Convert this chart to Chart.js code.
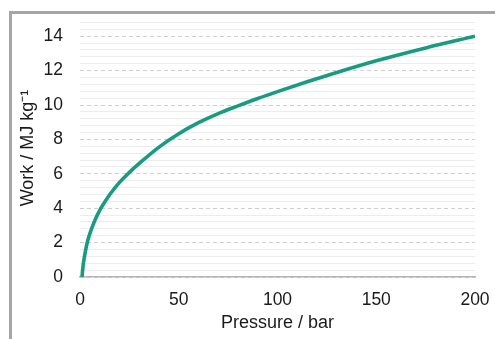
<!DOCTYPE html>
<html>
<head>
<meta charset="utf-8">
<script src="https://cdn.jsdelivr.net/npm/chart.js@4"></script>
<style>
  html, body { margin:0; padding:0; background:#fff; overflow:hidden; }
  #wrap { position:relative; width:495px; height:339px; }
  #frame { position:absolute; left:9px; top:11px; width:600px; height:400px;
           border-left:3px solid #a6a6a6; border-top:3px solid #a6a6a6; }
  canvas { position:absolute; left:0; top:0; }
</style>
</head>
<body>
<div id="wrap">
  <div id="frame"></div>
  <canvas id="work-chart" width="495" height="339"></canvas>
</div>
<script>
/* Compression work vs pressure */
const pressure = [1, 1.5, 2, 3, 4, 5, 6.5, 8, 10, 12, 15, 20, 25, 30, 40, 50, 60, 70, 80, 90, 100, 115, 130, 150, 175, 200];
const work     = [0, 0.58, 1.0, 1.65, 2.15, 2.52, 3.0, 3.42, 3.88, 4.26, 4.78, 5.5, 6.08, 6.6, 7.55, 8.33, 8.97, 9.5, 9.95, 10.38, 10.78, 11.35, 11.89, 12.57, 13.32, 14.0];
const xTicks   = [0, 50, 100, 150, 200];
const yMajor   = [0, 2, 4, 6, 8, 10, 12, 14];
const yMinorStep = 0.4;   // light lines between the dashed majors

const isMajor = v => yMajor.some(m => Math.abs(m - v) < 1e-6);
const textColor = '#1a1a1a';

new Chart(document.getElementById('work-chart').getContext('2d'), {
  type: 'line',
  data: { datasets: [{
    data: pressure.map((p, i) => ({ x: p, y: work[i] })),
    borderColor: '#199b80', borderWidth: 3.6, pointRadius: 0,
    fill: false, cubicInterpolationMode: 'monotone'
  }]},
  options: {
    responsive: false, animation: false, maintainAspectRatio: false,
    layout: { padding: { top: 19, right: 20, left: 0, bottom: 0 } },
    plugins: { legend: { display: false }, tooltip: { enabled: false } },
    scales: {
      x: {
        type: 'linear', min: 0, max: 200,
        afterBuildTicks: s => { s.ticks = xTicks.map(v => ({ value: v })); },
        // fixed box; drop the label overhang padding so the plot spans 80..475
        afterFit: s => { s.height = 62; s.paddingLeft = 0; s.paddingRight = 0; },
        grid: { display: false, drawTicks: false },
        border: { display: true, color: '#b4b4b4', width: 1.4 },
        ticks: { color: textColor, padding: 13, maxRotation: 0, font: { family: 'Liberation Sans', size: 17.5 } },
        title: { display: true, text: 'Pressure / bar', color: textColor, padding: { top: 0, bottom: 5 },
                 font: { family: 'Liberation Sans', size: 18 } }
      },
      y: {
        min: 0, max: 15,
        afterBuildTicks: s => {
          const t = [];
          for (let i = 0; i * yMinorStep <= 14.8 + 1e-6; i++) t.push({ value: +(i * yMinorStep).toFixed(1) });
          s.ticks = t;
        },
        afterFit: s => { s.width = 80; s.paddingTop = 0; s.paddingBottom = 0; },
        grid: { drawTicks: false, lineWidth: 1,
                color: c => isMajor(c.tick.value) ? '#cfcfcf' : '#ececec' },
        border: { display: false, dash: c => isMajor(c.tick.value) ? [4, 3] : [] },
        ticks: { color: textColor, padding: 17, autoSkip: false,
                 callback: v => isMajor(v) ? String(Math.round(v)) : '',
                 font: { family: 'Liberation Sans', size: 17.5 } },
        title: { display: true, text: 'Work / MJ kg\u207B\u00B9', color: textColor, padding: { top: 17, bottom: 0 },
                 font: { family: 'Liberation Sans', size: 18 } }
      }
    }
  }
});
</script>
</body>
</html>
